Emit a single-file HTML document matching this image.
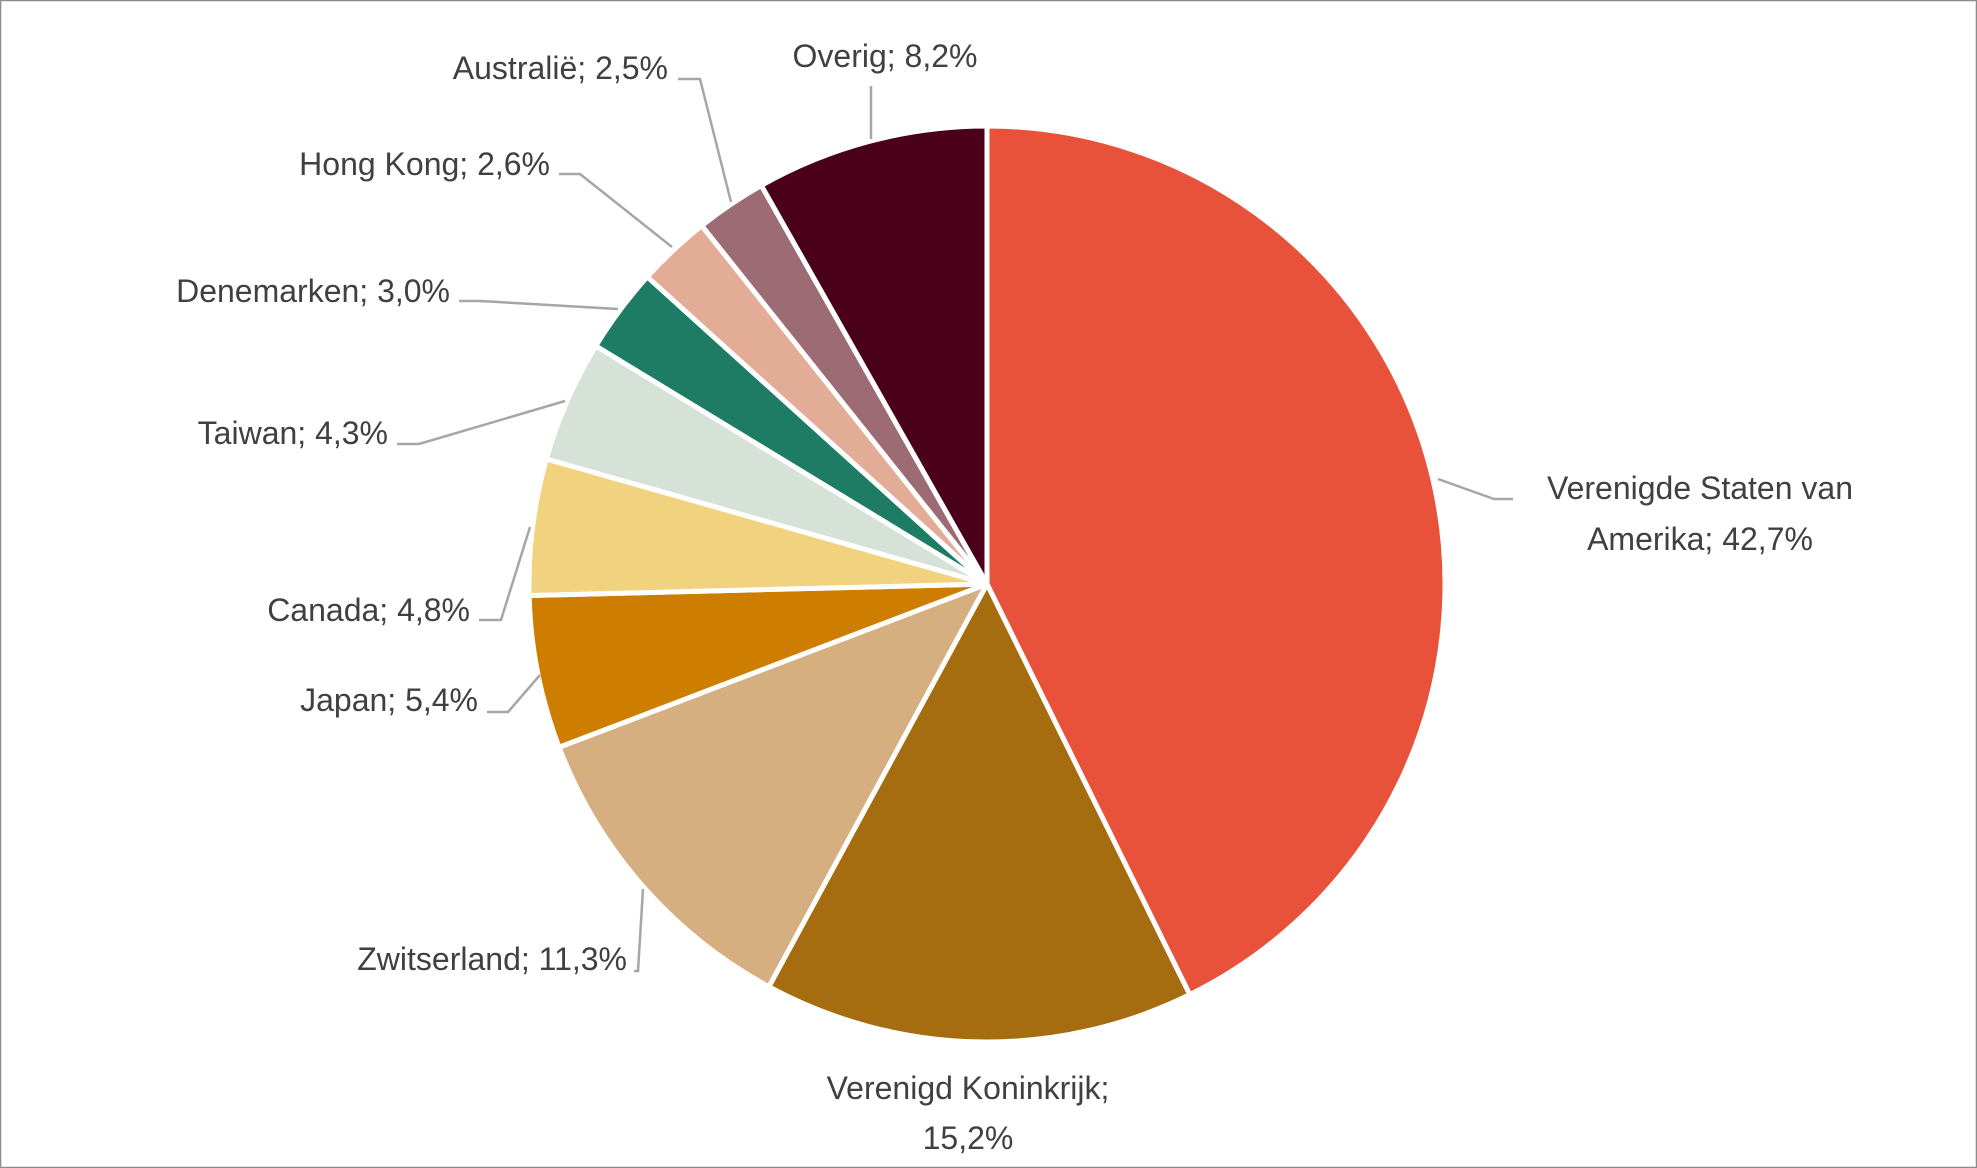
<!DOCTYPE html>
<html><head><meta charset="utf-8"><style>
html,body{margin:0;padding:0;background:#fff}
svg{display:block}
text{font-family:"Liberation Sans",sans-serif;font-size:32px;fill:#404040}
</style></head><body>
<svg id="chart" width="1977" height="1168" viewBox="0 0 1977 1168">
<rect x="0.5" y="0.5" width="1976" height="1167" fill="#fff" stroke="#8c8c8c" stroke-width="1.5"/>
<g id="slices"></g>
<g id="leaders" fill="none" stroke="#a6a6a6" stroke-width="2.5">
<polyline points="871,86 871,139"/>
<polyline points="678,79 700,79 731,202"/>
<polyline points="559,174 580,174 672,247"/>
<polyline points="459,301 480,301 618,309"/>
<polyline points="397,444 419,444 565,401"/>
<polyline points="479,620 501,620 530,527"/>
<polyline points="487,712 508,712 540,675"/>
<polyline points="634,971 638,971 643,889"/>
<polyline points="1438,479 1494,499 1513,499"/>
</g>
<g id="labels"></g>
</svg>
<script>
const categories=["Verenigde Staten van Amerika","Verenigd Koninkrijk","Zwitserland","Japan","Canada","Taiwan","Denemarken","Hong Kong","Australië","Overig"];
const values=[42.7,15.2,11.3,5.4,4.8,4.3,3.0,2.6,2.5,8.2];
const valueLabels=["42,7%","15,2%","11,3%","5,4%","4,8%","4,3%","3,0%","2,6%","2,5%","8,2%"];
const colors=["#E8523B","#A66D10","#D5AF80","#CD7E00","#F1D27E","#D6E2D7","#1F7C64","#E2AC96","#9C6B73","#4A0019"];
const cx=987,cy=584,r=458;
const NS="http://www.w3.org/2000/svg";
const total=values.reduce((a,b)=>a+b,0);
function pt(a,rad){return [cx+rad*Math.sin(a),cy-rad*Math.cos(a)];}
let acc=0;
const sg=document.getElementById('slices');
values.forEach((v,i)=>{
  const a0=acc/total*2*Math.PI; acc+=v; const a1=acc/total*2*Math.PI;
  const p0=pt(a0,r),p1=pt(a1,r);
  const large=(a1-a0)>Math.PI?1:0;
  const p=document.createElementNS(NS,'path');
  p.setAttribute('d',`M${cx},${cy} L${p0[0]},${p0[1]} A${r},${r} 0 ${large} 1 ${p1[0]},${p1[1]} Z`);
  p.setAttribute('fill',colors[i]);
  p.setAttribute('stroke','#fff');
  p.setAttribute('stroke-width','5');
  p.setAttribute('stroke-linejoin','round');
  
  
  sg.appendChild(p);
});
// label placements: [x, y(lines), anchor]
const pos=[
 [1700,[499,550],'middle',["Verenigde Staten van","Amerika; "]],
 [968,[1099,1149],'middle',["Verenigd Koninkrijk;",""]],
 [627,[970],'end'],[478,[711],'end'],[470,[621],'end'],[388,[444],'end'],
 [450,[302],'end'],[550,[175],'end'],[668,[79],'end'],[885,[67],'middle']
];
const lg=document.getElementById('labels');
values.forEach((v,i)=>{
  const [x,ys,anc,lines]=pos[i];
  const t=document.createElementNS(NS,'text');
  t.setAttribute('text-anchor',anc);
  
  
  const ls=lines?[lines[0],lines[1]+valueLabels[i]]:[categories[i]+'; '+valueLabels[i]];
  ls.forEach((s,k)=>{
    const ts=document.createElementNS(NS,'tspan');
    ts.setAttribute('x',x);ts.setAttribute('y',ys[k]);
    ts.textContent=s;t.appendChild(ts);
  });
  lg.appendChild(t);
});
</script>
</body></html>
